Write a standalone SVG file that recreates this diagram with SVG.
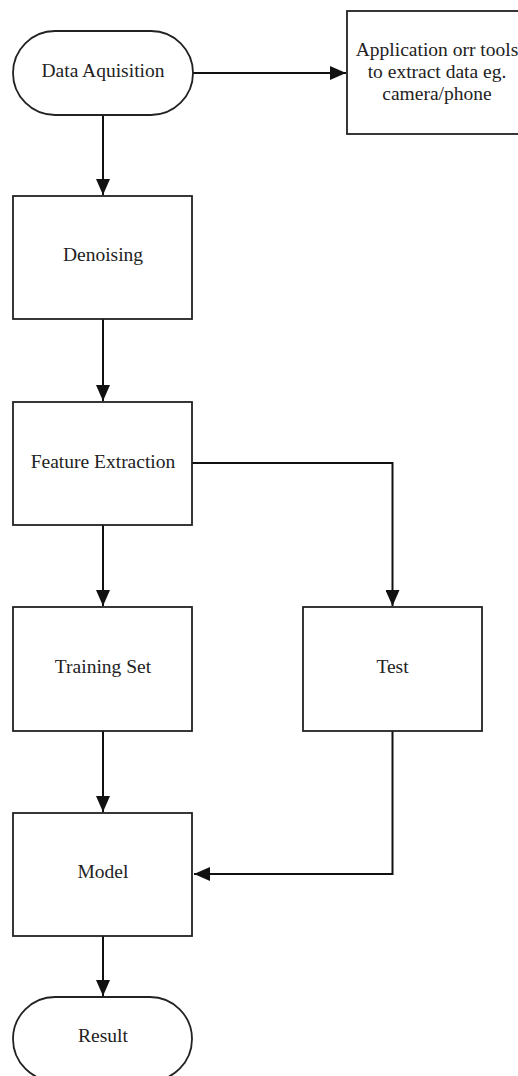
<svg xmlns="http://www.w3.org/2000/svg" width="518" height="1076" viewBox="0 0 518 1076">
<style>
.shape{fill:#fff;stroke:#222;stroke-width:1.8}
.lbl{font-family:"Liberation Serif","Times New Roman",serif;font-size:19.5px;fill:#222;text-anchor:middle}
.edge{fill:none;stroke:#111;stroke-width:2}
</style>
<defs>
<marker id="ah" markerWidth="16" markerHeight="14" refX="16" refY="7" orient="auto" markerUnits="userSpaceOnUse">
<path d="M0,0 L16,7 L0,14 Z" fill="#111"/>
</marker>
</defs>
<rect width="518" height="1076" fill="#fff"/>
<g id="connectors">
<path class="edge" d="M193,73 H346" marker-end="url(#ah)"/>
<path class="edge" d="M103,115 V195" marker-end="url(#ah)"/>
<path class="edge" d="M103,319 V401" marker-end="url(#ah)"/>
<path class="edge" d="M103,525 V606" marker-end="url(#ah)"/>
<path class="edge" d="M192,463 H392.5 V606" marker-end="url(#ah)"/>
<path class="edge" d="M103,731 V812" marker-end="url(#ah)"/>
<path class="edge" d="M392.5,731 V874 H194" marker-end="url(#ah)"/>
<path class="edge" d="M103,936 V996" marker-end="url(#ah)"/>
</g>
<g id="data-aquisition">
<rect class="shape" x="13" y="31" width="180" height="84" rx="42" ry="42"/>
<text class="lbl" x="103" y="77">Data Aquisition</text>
</g>
<g id="application">
<rect class="shape" x="347" y="11" width="180" height="123"/>
<text class="lbl" x="437" y="55.5">Application orr tools</text>
<text class="lbl" x="437" y="77.5">to extract data eg.</text>
<text class="lbl" x="437" y="99.5">camera/phone</text>
</g>
<g id="denoising">
<rect class="shape" x="13" y="196" width="179" height="123"/>
<text class="lbl" x="103" y="261">Denoising</text>
</g>
<g id="feature-extraction">
<rect class="shape" x="13" y="402" width="179" height="123"/>
<text class="lbl" x="103" y="468">Feature Extraction</text>
</g>
<g id="training-set">
<rect class="shape" x="13" y="607" width="179" height="124"/>
<text class="lbl" x="103" y="673">Training Set</text>
</g>
<g id="test">
<rect class="shape" x="303" y="607" width="179" height="124"/>
<text class="lbl" x="392.5" y="673">Test</text>
</g>
<g id="model">
<rect class="shape" x="13" y="813" width="179" height="123"/>
<text class="lbl" x="103" y="878">Model</text>
</g>
<g id="result">
<rect class="shape" x="13" y="997" width="179" height="84" rx="42" ry="42"/>
<text class="lbl" x="103" y="1042">Result</text>
</g>
</svg>
